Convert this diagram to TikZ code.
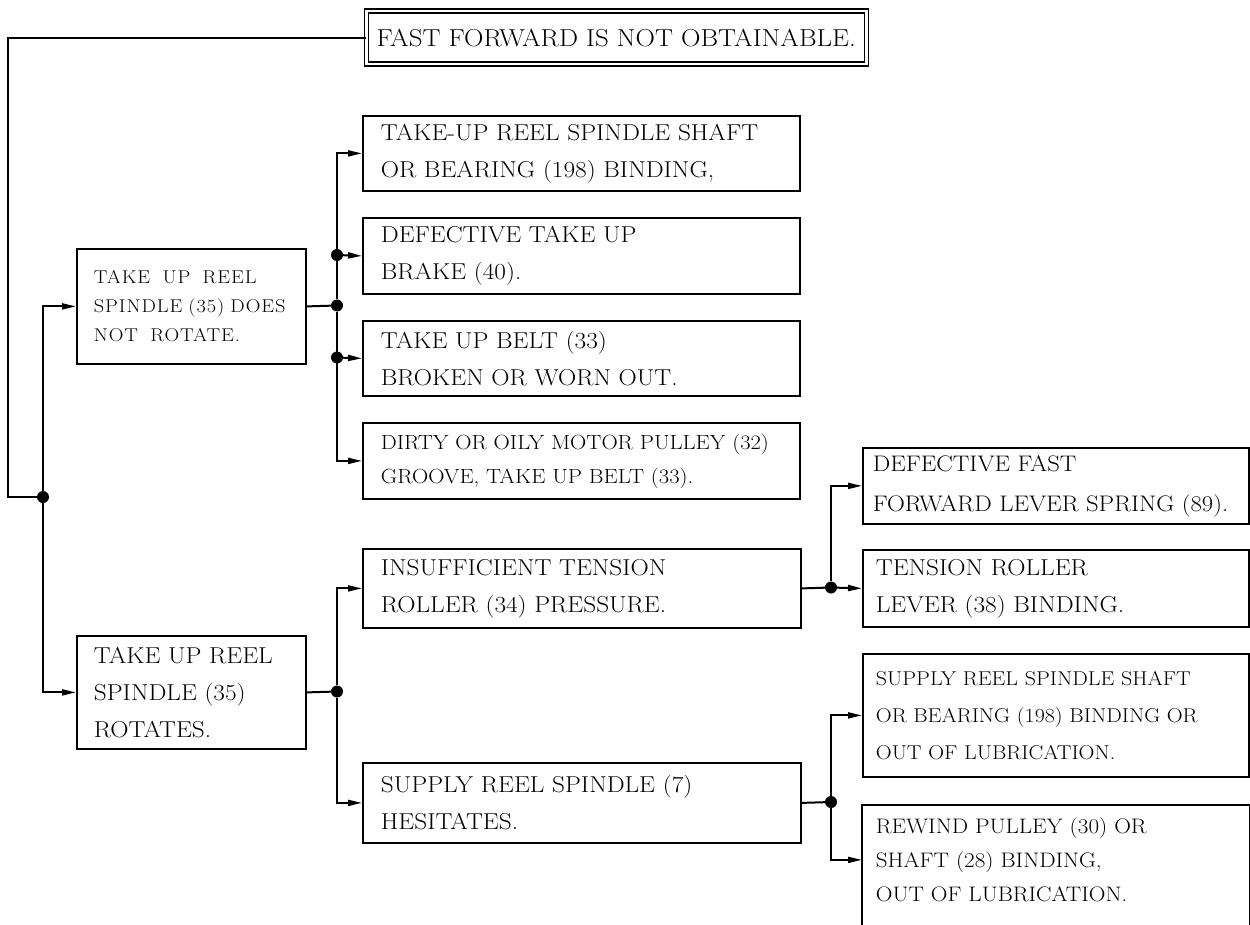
\documentclass[tikz,border=0pt]{standalone}
\usepackage{fontspec}
\setmainfont{Latin Modern Roman}[FakeStretch=1.1]
\usetikzlibrary{arrows.meta}
\begin{document}
\begin{tikzpicture}[x=1pt,y=-1pt,
  bx/.style={draw, line width=1.8pt, anchor=north west, align=left, inner xsep=18pt, inner ysep=0pt},
  bxr/.style={bx, inner xsep=13pt},
  ln/.style={line width=2pt},
  arr/.style={line width=2pt, -{Triangle[length=14pt,width=6pt]}},
  dot/.style={circle, fill, minimum size=12pt, inner sep=0pt},
  fbig/.style={font=\fontsize{23}{37}\selectfont},
  fmid/.style={font=\fontsize{20.5}{34}\selectfont},
  fsmall/.style={font=\fontsize{18.5}{29}\selectfont\addfontfeatures{LetterSpace=5}},
  fI/.style={font=\fontsize{20}{37}\selectfont},
  fJ/.style={font=\fontsize{21}{34}\selectfont},
  fG/.style={font=\fontsize{22.5}{40}\selectfont},
 ]
\useasboundingbox (0,0) rectangle (1250,925);
% top
\node[draw, line width=1.5pt, double=white, double distance=2.5pt, anchor=north west,
      minimum width=500pt, minimum height=53pt, inner sep=0pt,
      font=\fontsize{24.5}{28}\selectfont] (top) at (365.5,10.5) {FAST FORWARD IS NOT OBTAINABLE.};
% left column
\node[bx, fsmall, inner xsep=17pt, text width=195pt, minimum height=115pt] (b1) at (76,248)
  {TAKE\ \ UP\ \ REEL\\SPINDLE (35) DOES\\NOT\ \ ROTATE.};
\node[bx, fbig, inner xsep=17pt, text width=195pt, minimum height=113pt] (b2) at (76,635)
  {TAKE UP REEL\\SPINDLE (35)\\ROTATES.};
% group 1
\node[bx, fbig, text width=401pt, minimum height=75pt] (bA) at (362,115)
  {TAKE-UP REEL SPINDLE SHAFT\\OR BEARING (198) BINDING,};
\node[bx, fbig, text width=401pt, minimum height=76pt] (bB) at (362,217)
  {DEFECTIVE TAKE UP\\BRAKE (40).};
\node[bx, fbig, text width=401pt, minimum height=75pt] (bC) at (362,320)
  {TAKE UP BELT (33)\\BROKEN OR WORN OUT.};
\node[bx, fmid, text width=401pt, minimum height=76pt] (bD) at (362,422)
  {DIRTY OR OILY MOTOR PULLEY (32)\\GROOVE, TAKE UP BELT (33).};
% group 2
\node[bx, fbig, text width=402pt, minimum height=79pt] (bE) at (362,548)
  {INSUFFICIENT TENSION\\ROLLER (34) PRESSURE.};
\node[bx, fbig, text width=402pt, minimum height=80pt] (bF) at (362,762)
  {SUPPLY REEL SPINDLE (7)\\HESITATES.};
% right groups
\node[bxr, fG, inner xsep=10pt, text width=366pt, minimum height=76pt] (bG) at (862,447)
  {DEFECTIVE FAST\\FORWARD LEVER SPRING (89).};
\node[bxr, fbig, text width=360pt, minimum height=77pt] (bH) at (862,549)
  {TENSION ROLLER\\LEVER (38) BINDING.};
\node[bxr, fI, text width=360pt, minimum height=123pt] (bI) at (862,653)
  {SUPPLY REEL SPINDLE SHAFT\\OR BEARING (198) BINDING OR\\OUT OF LUBRICATION.};
\node[bxr, fJ, draw=none, text width=360pt, minimum height=108pt] (bJ) at (862,805)
  {REWIND PULLEY (30) OR\\SHAFT (28) BINDING,\\OUT OF LUBRICATION.};
\draw[line width=1.8pt] ([yshift=-30pt]bJ.south west) -- (bJ.north west) -- (bJ.north east) -- ([yshift=-30pt]bJ.south east);
% junction dots
\coordinate (c0) at (8,497);
\node[dot] (j0) at (43,497) {};
\node[dot] (j1) at (337,305.5) {};
\node[dot] (jB) at (337,255) {};
\node[dot] (jC) at (337,357.5) {};
\node[dot] (j2) at (337,691.5) {};
\node[dot] (j3) at (831,587.5) {};
\node[dot] (j4) at (831,802) {};
% connectors
\draw[ln] (top.west) -| (c0) -- (j0);
\draw[arr] (j0) |- (b1.west);
\draw[arr] (j0) |- (b2.west);
\draw[ln] (b1.east) -- (j1);
\draw[arr] (j1) |- (bA.west);
\draw[arr] (j1) |- (bD.west);
\draw[arr] (jB) -- (bB.west);
\draw[arr] (jC) -- (bC.west);
\draw[ln] (b2.east) -- (j2);
\draw[arr] (j2) |- (bE.west);
\draw[arr] (j2) |- (bF.west);
\draw[ln] (bE.east) -- (j3);
\draw[arr] (j3) |- (bG.west);
\draw[arr] (j3) -- (bH.west);
\draw[ln] (bF.east) -- (j4);
\draw[arr] (j4) |- (bI.west);
\draw[arr] (j4) |- (bJ.west);
\end{tikzpicture}
\end{document}
